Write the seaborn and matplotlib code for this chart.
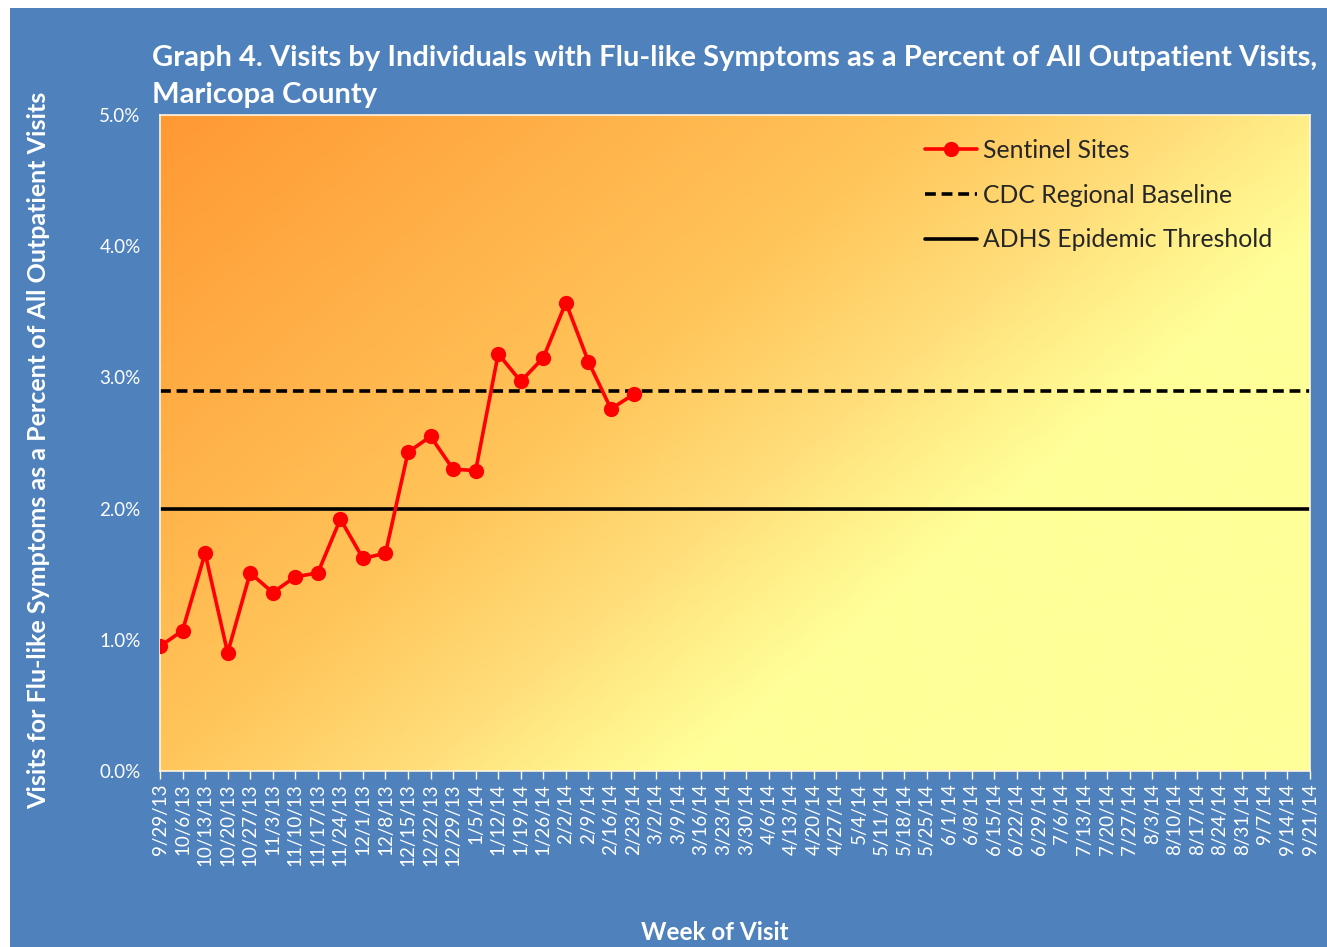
import numpy as np
import matplotlib.pyplot as plt
import matplotlib.patches as mpatches
from matplotlib.colors import LinearSegmentedColormap
import seaborn as sns

# ── Data ─────────────────────────────────────────────────────────────────────
weeks = ["9/29/13", "10/6/13", "10/13/13", "10/20/13", "10/27/13", "11/3/13",
         "11/10/13", "11/17/13", "11/24/13", "12/1/13", "12/8/13", "12/15/13",
         "12/22/13", "12/29/13", "1/5/14", "1/12/14", "1/19/14", "1/26/14",
         "2/2/14", "2/9/14", "2/16/14", "2/23/14", "3/2/14", "3/9/14",
         "3/16/14", "3/23/14", "3/30/14", "4/6/14", "4/13/14", "4/20/14",
         "4/27/14", "5/4/14", "5/11/14", "5/18/14", "5/25/14", "6/1/14",
         "6/8/14", "6/15/14", "6/22/14", "6/29/14", "7/6/14", "7/13/14",
         "7/20/14", "7/27/14", "8/3/14", "8/10/14", "8/17/14", "8/24/14",
         "8/31/14", "9/7/14", "9/14/14", "9/21/14"]
sentinel = [0.95, 1.07, 1.66, 0.90, 1.51, 1.36, 1.48, 1.51, 1.92, 1.62, 1.66,
            2.43, 2.55, 2.30, 2.29, 3.18, 2.97, 3.15, 3.57, 3.12, 2.76, 2.87]
cdc_baseline = 2.9
adhs_threshold = 2.0

BLUE = "#4F81BD"

# ── Figure ───────────────────────────────────────────────────────────────────
sns.set_theme(style="white")
plt.rcParams["font.family"] = ["Lato", "DejaVu Sans"]

fig = plt.figure(figsize=(13.27, 9.47), dpi=100, facecolor="white")
fig.patches.append(mpatches.Rectangle((10 / 1327, 0), 1 - 10 / 1327, 1 - 8 / 947,
                                      transform=fig.transFigure,
                                      facecolor=BLUE, edgecolor="none", zorder=-10))

ax = fig.add_axes([160 / 1327, (947 - 771) / 947, 1150 / 1327, 656 / 947])
ax.set_facecolor("none")

# diagonal orange -> yellow gradient background (pixel space of plot area)
W, H = 1150, 656
gx, gy = np.meshgrid(np.linspace(0, W, 400), np.linspace(0, H, 240))
grad = 0.00052 * gx + 0.00062 * gy
cmap = LinearSegmentedColormap.from_list(
    "bg", [(0.0, "#FF9933"), (0.40, "#FFC55A"), (0.54, "#FFDE7A"),
           (0.60, "#FFEE88"), (0.68, "#FFFF99"), (1.0, "#FFFF99")])
ax.imshow(grad, cmap=cmap, vmin=0, vmax=1, extent=[0, 1, 0, 1], origin="upper",
          transform=ax.transAxes, aspect="auto", zorder=0, interpolation="bilinear")

x_all = np.arange(len(weeks))
ax.plot(x_all, [cdc_baseline] * len(weeks), ls=(0, (3, 1.6)), color="black",
        lw=2.6, label="CDC Regional Baseline", zorder=2)
ax.plot(x_all, [adhs_threshold] * len(weeks), color="black", lw=2.6,
        label="ADHS Epidemic Threshold", zorder=2)
sns.lineplot(x=x_all[:len(sentinel)], y=sentinel, ax=ax, color="#FF0000",
             lw=2.6, marker="o", markersize=11, markeredgewidth=0,
             label="Sentinel Sites", zorder=3)

ax.set_xlim(0, len(weeks) - 1)
ax.set_ylim(0, 5)
ax.set_yticks(np.arange(0, 5.01, 1))
ax.set_yticklabels([f"{v:.1f}%" for v in np.arange(0, 5.01, 1)])
ax.set_xticks(x_all)
ax.set_xticklabels(weeks, rotation=90)
ax.tick_params(axis="x", colors="white", labelsize=13.5, length=6, width=1,
               direction="out", pad=3, bottom=True)
ax.tick_params(axis="y", colors="white", labelsize=13.5, length=0, pad=14)
for s in ax.spines.values():
    s.set_color("#FFF5E0")
    s.set_linewidth(1.2)

ax.set_ylabel("Visits for Flu-like Symptoms as a Percent of All Outpatient Visits",
              color="white", fontsize=18, fontweight="bold")
ax.yaxis.set_label_coords(-0.0957, 0.489)
fig.text(715 / 1327, 1 - 932 / 947, "Week of Visit", color="white",
         fontsize=17.5, fontweight="bold", ha="center", va="center")

fig.text(152 / 1327, 1 - 45 / 947,
         "Graph 4. Visits by Individuals with Flu-like Symptoms as a Percent of All Outpatient Visits,\nMaricopa County",
         color="white", fontsize=21, fontweight="bold", ha="left", va="top",
         linespacing=1.5)

handles, labels = ax.get_legend_handles_labels()
order = [labels.index(l) for l in ["Sentinel Sites", "CDC Regional Baseline",
                                   "ADHS Epidemic Threshold"]]
leg = ax.legend([handles[i] for i in order], [labels[i] for i in order],
                loc="upper right", bbox_to_anchor=(0.982, 0.99), frameon=False,
                fontsize=17.8, handlelength=2.1, handletextpad=0.25,
                labelspacing=0.88, borderaxespad=0.3)

plt.savefig("out.png", dpi=100, facecolor=fig.get_facecolor())
plt.close()
